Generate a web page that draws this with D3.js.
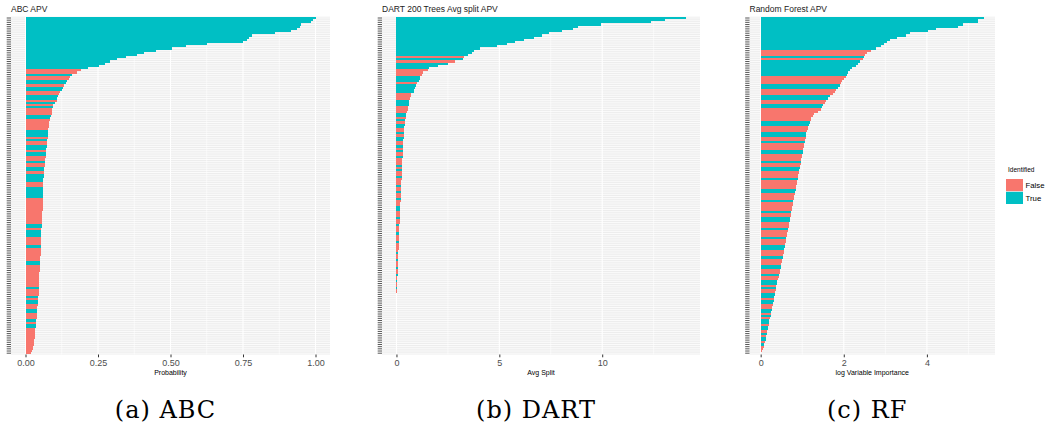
<!DOCTYPE html>
<html lang="en">
<head>
<meta charset="UTF-8">
<title>APV comparison</title>
<script src="https://d3js.org/d3.v7.min.js"></script>
<style>
  body { margin: 0; background: #fff; }
  svg { display: block; }
</style>
</head>
<body>
<svg id="chart" width="1045" height="423"></svg>
<script>
// values per variable, sorted from top row to bottom row
const abcValues = [
  1.00,0.99,0.985,0.95,0.945,0.935,0.915,0.86,0.78,0.77,0.765,0.75,0.625,0.555,0.505,0.45,0.41,0.385,0.345,0.315,0.29,0.275,0.255,0.215,
  0.190,0.178,0.160,0.155,0.150,0.144,0.138,0.132,0.128,0.125,0.120,0.114,0.112,0.110,0.107,0.103,0.096,0.094,0.092,0.091,0.090,0.087,0.085,
  0.083,0.082,0.081,0.080,0.079,
  0.078,0.078,0.077,0.076,0.075,0.075,0.074,
  0.073,0.072,0.071,0.070,0.070,0.069,0.068,
  0.067,0.066,0.066,0.065,0.064,0.064,0.063,0.063,0.062,0.062,
  0.062,0.061,0.061,0.061,0.060,0.060,0.060,0.060,
  0.059,0.059,0.059,0.059,0.059,0.058,0.058,0.058,0.058,0.058,0.057,
  0.056,0.056,0.055,0.055,0.055,0.054,0.054,0.054,0.053,0.053,0.053,
  0.052,0.052,0.052,0.052,0.051,0.051,0.050,0.050,
  0.049,0.049,0.049,0.048,0.048,0.048,0.048,0.047,0.047,0.047,
  0.046,0.046,0.045,0.045,0.044,0.044,0.043,0.043,0.042,0.041,
  0.041,0.040,0.039,0.038,0.038,0.037,0.036,0.036,0.035,
  0.034,0.034,0.033,0.033,0.032,0.031,0.030,0.029,0.027,0.025,0.022,0.019
];
const abcIdentified = [
  1,1,1,1,1,1,1,1,1,1,1,1,1,1,1,1,1,1,1,1,1,1,1,1,
  0,0,1,0,0,1,1,0,1,1,0,0,1,1,0,1,0,1,0,0,0,1,1,
  0,0,0,0,0,
  1,1,1,0,1,0,0,
  1,1,0,1,1,0,0,
  1,0,0,1,1,0,1,1,1,1,
  0,0,1,1,1,1,1,0,
  0,0,0,0,0,0,0,0,0,0,0,
  1,1,0,1,1,1,0,0,0,0,1,
  0,0,0,0,0,0,1,1,
  0,0,0,0,0,0,0,0,0,0,
  1,0,0,0,1,0,1,1,0,0,
  1,1,0,0,0,1,0,1,1,
  0,0,0,0,0,0,0,0,0,0,0,0
];

const dartValues = [
  14.05,13.05,12.35,9.95,8.8,8.6,8.05,7.4,7.05,6.7,6.2,5.75,5.35,4.9,4.05,3.75,3.65,3.5,
  3.30,3.25,2.85,2.52,2.00,1.60,1.55,1.28,1.25,1.15,1.13,1.12,1.00,0.95,0.90,0.87,0.84,
  0.71,0.69,0.67,0.63,0.62,0.60,0.55,0.54,0.52,0.47,0.46,0.45,
  0.42,0.41,0.40,0.39,0.38,0.37,0.36,0.36,0.35,0.34,0.34,0.33,0.32,0.32,
  0.31,0.31,0.30,0.30,0.29,0.29,0.28,0.28,0.27,0.27,0.26,0.26,0.25,0.25,0.24,0.24,0.23,0.23,0.22,0.22,
  0.21,0.21,0.20,0.20,0.19,0.19,0.18,0.18,0.17,0.17,0.16,0.16,0.15,0.15,0.14,0.14,0.13,0.13,0.12,0.12,
  0.11,0.11,0.11,0.10,0.10,0.10,0.09,0.09,0.09,0.08,0.08,0.08,0.07,0.07,0.07,0.06,0.06,0.06,0.05,0.05,
  0.05,0.04,0.04,0.03,0.02,0.01,
  0,0,0,0,0,0,0,0,0,0,0,0,0,0,0,0,0,0,0,0,0,0,0,0,0,0,0,0
];
const dartIdentified = [
  1,1,1,1,1,1,1,1,1,1,1,1,1,1,1,1,1,1,
  0,1,0,1,1,1,0,0,0,1,1,1,0,1,1,1,1,
  0,0,0,1,1,1,0,0,0,1,1,0,
  1,0,1,1,0,0,1,0,1,1,0,0,1,0,
  1,0,0,1,0,0,0,1,0,1,0,0,1,0,0,0,1,0,0,1,
  0,0,1,0,0,0,1,1,0,0,0,1,0,0,1,0,0,0,1,0,
  0,0,1,0,0,0,0,1,0,0,1,0,0,0,1,0,0,1,0,0,
  1,0,0,1,0,0,
  0,0,0,0,0,0,0,0,0,0,0,0,0,0,0,0,0,0,0,0,0,0,0,0,0,0,0,0
];

const rfValues = [
  5.37,5.24,5.22,4.88,4.75,4.23,4.03,3.59,3.49,3.27,3.11,3.03,2.96,2.90,2.78,
  2.65,2.55,2.50,2.48,2.46,2.40,2.35,2.30,2.20,2.15,2.10,2.07,2.05,2.00,1.96,1.93,
  1.90,1.87,1.82,1.78,1.74,1.68,1.62,1.58,1.56,1.50,1.48,1.44,1.37,1.29,1.25,
  1.22,1.20,1.18,1.16,1.14,1.13,1.12,1.10,1.09,1.08,1.07,1.06,1.05,1.04,1.03,
  1.02,1.01,1.00,0.99,0.98,0.97,0.96,0.95,0.94,0.93,0.92,0.91,0.90,0.89,0.88,0.87,0.86,0.85,0.84,0.83,
  0.82,0.81,0.80,0.79,0.78,0.77,0.76,0.75,0.74,0.73,0.72,0.71,0.70,0.69,0.68,0.67,0.66,0.65,0.64,0.63,
  0.62,0.61,0.60,0.59,0.58,0.57,0.56,0.55,0.54,0.53,0.52,0.51,0.50,0.49,0.48,0.47,0.46,0.45,0.44,0.42,
  0.40,0.39,0.38,0.37,0.36,0.35,0.34,0.33,0.32,0.31,0.30,0.29,0.28,0.27,0.26,0.25,0.24,0.22,0.21,0.20,
  0.19,0.18,0.17,0.16,0.15,0.14,0.13,0.12,0.10,0.09,0.07,0.06,0.04,0.02
];
const rfIdentified = [
  1,1,1,1,1,1,1,1,1,1,1,1,1,1,1,
  0,0,0,1,0,1,1,1,1,1,1,1,0,0,0,0,
  1,1,0,0,0,1,1,0,0,1,1,0,0,0,0,
  0,0,1,1,0,0,0,1,1,0,0,1,0,0,0,
  1,1,0,0,0,1,0,0,1,1,0,0,0,1,0,0,0,0,1,1,
  0,0,0,1,0,0,0,0,1,0,0,1,1,0,0,0,1,0,0,0,
  1,0,0,0,1,1,0,0,0,1,0,0,0,1,1,0,0,1,0,0,
  1,1,0,1,0,0,1,1,0,1,1,0,0,1,1,0,1,0,1,1,
  0,1,1,0,1,0,1,1,0,1,0,0,0,1
];

const abcTicks = [0, 0.25, 0.5, 0.75, 1];
const dartTicks = [0, 5, 10];
const rfTicks = [0, 2, 4];
const legendLabels = ['False', 'True'];

const colors = { 0: '#F8766D', 1: '#00BFC4' };
const svg = d3.select('#chart');
const panelTop = 16.7, panelBottom = 354.5;

const panels = [
  { title: 'ABC APV', values: abcValues, flags: abcIdentified, left: 11, right: 330,
    ticks: abcTicks, fmt: d3.format('.2f'), xTitle: 'Probability', caption: '(a) ABC' },
  { title: 'DART 200 Trees Avg split APV', values: dartValues, flags: dartIdentified, left: 382, right: 700,
    ticks: dartTicks, fmt: d3.format('d'), xTitle: 'Avg Split', caption: '(b) DART' },
  { title: 'Random Forest APV', values: rfValues, flags: rfIdentified, left: 749.5, right: 995,
    ticks: rfTicks, fmt: d3.format('d'), xTitle: 'log Variable Importance', caption: '(c) RF' }
];

panels.forEach(p => {
  const lo = Math.min(0, d3.min(p.values)), hi = d3.max(p.values);
  const pad = (hi - lo) * 0.05;
  const x = d3.scaleLinear().domain([lo - pad, hi + pad]).range([p.left, p.right]);
  const y = d3.scalePoint().domain(d3.range(p.values.length)).range([panelTop, panelBottom]).padding(0.6);
  const step = y.step();
  const g = svg.append('g');

  // panel background + grid
  g.append('rect').attr('x', p.left).attr('y', panelTop)
    .attr('width', p.right - p.left).attr('height', panelBottom - panelTop).attr('fill', '#EDEDED');
  const tickStep = p.ticks[1] - p.ticks[0];
  const minor = d3.range(p.ticks[0] + tickStep / 2, hi + pad, tickStep);
  g.selectAll('line.minor').data(minor).enter().append('line')
    .attr('x1', d => x(d)).attr('x2', d => x(d)).attr('y1', panelTop).attr('y2', panelBottom)
    .attr('stroke', '#fff').attr('stroke-width', 0.6);
  g.selectAll('line.hgrid').data(d3.range(p.values.length)).enter().append('line')
    .attr('x1', p.left).attr('x2', p.right).attr('y1', d => y(d)).attr('y2', d => y(d))
    .attr('stroke', '#fff').attr('stroke-width', 0.8);
  g.selectAll('line.major').data(p.ticks).enter().append('line')
    .attr('x1', d => x(d)).attr('x2', d => x(d)).attr('y1', panelTop).attr('y2', panelBottom)
    .attr('stroke', '#fff').attr('stroke-width', 1.1);

  // bars
  g.selectAll('rect.bar').data(p.values).enter().append('rect')
    .attr('x', d => x(Math.min(0, d)))
    .attr('width', d => Math.abs(x(d) - x(0)))
    .attr('y', (d, i) => y(i) - step * 0.5)
    .attr('height', step)
    .attr('shape-rendering', 'crispEdges')
    .attr('fill', (d, i) => colors[p.flags[i]]);

  // y ticks (one per variable)
  g.selectAll('line.ytick').data(d3.range(p.values.length)).enter().append('line')
    .attr('x1', p.left - 4.3).attr('x2', p.left).attr('y1', d => y(d)).attr('y2', d => y(d))
    .attr('stroke', '#555').attr('stroke-width', 1);

  // x axis
  const xAxis = d3.axisBottom(x).tickValues(p.ticks).tickFormat(p.fmt).tickSize(2.8).tickPadding(2);
  const ax = g.append('g').attr('transform', `translate(0,${panelBottom})`).call(xAxis);
  ax.select('.domain').remove();
  ax.selectAll('line').attr('stroke', '#333');
  ax.selectAll('text').attr('fill', '#4D4D4D').attr('font-size', 9)
    .attr('font-family', 'Liberation Sans, Arial, sans-serif');

  g.append('text').attr('x', (p.left + p.right) / 2).attr('y', 375)
    .attr('text-anchor', 'middle').attr('font-size', 7)
    .attr('font-family', 'Liberation Sans, Arial, sans-serif').text(p.xTitle);

  g.append('text').attr('x', p.left).attr('y', 12).attr('font-size', 8.5)
    .attr('font-family', 'Liberation Sans, Arial, sans-serif').attr('fill', '#222').text(p.title);

  g.append('text').attr('x', (p.left + p.right) / 2 - 5).attr('y', 418)
    .attr('text-anchor', 'middle').attr('font-size', 24).attr('letter-spacing', 1)
    .attr('font-family', 'DejaVu Serif, serif').text(p.caption);
});

// legend
const lg = svg.append('g').attr('font-family', 'Liberation Sans, Arial, sans-serif');
lg.append('text').attr('x', 1008).attr('y', 172).attr('font-size', 6.5).text('Identified');
lg.selectAll('rect').data(legendLabels).enter().append('rect')
  .attr('x', 1006).attr('y', (d, i) => 179 + i * 12.8)
  .attr('width', 17).attr('height', 12.2)
  .attr('fill', (d, i) => colors[i]);
lg.selectAll('text.lab').data(legendLabels).enter().append('text')
  .attr('x', 1025.5).attr('y', (d, i) => 188 + i * 12.8)
  .attr('font-size', 7.8).text(d => d);
</script>
</body>
</html>
